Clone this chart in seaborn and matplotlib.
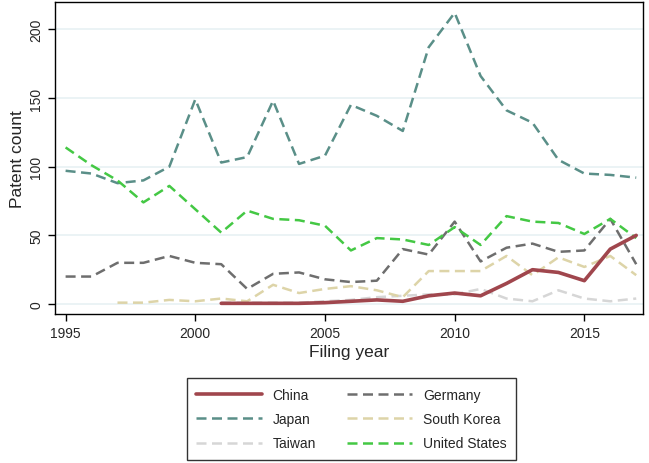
import numpy as np
import pandas as pd
import seaborn as sns
import matplotlib.pyplot as plt

years = list(range(1995, 2018))

china = [np.nan] * 6 + [0.5, 0.5, 0.5, 0.5, 1, 2, 3, 2, 6, 8, 6, 15, 25, 23, 17, 40, 50]
japan = [97, 95, 88, 90, 100, 149, 103, 107, 148, 102, 108, 145, 137, 126, 187, 212, 166, 141, 132, 105, 95, 94, 92]
taiwan = [np.nan] * 6 + [1, 1, 1, 1, 2, 3, 5, 6, 7, 7, 11, 4, 2, 10, 4, 2, 4]
germany = [20, 20, 30, 30, 35, 30, 29, 11, 22, 23, 18, 16, 17, 40, 36, 60, 31, 41, 44, 38, 39, 62, 29]
south_korea = [np.nan] * 2 + [1, 1, 3, 2, 4, 2, 14, 8, 11, 13, 10, 5, 24, 24, 24, 35, 21, 34, 27, 35, 21]
united_states = [114, 101, 90, 74, 86, 69, 52, 68, 62, 61, 57, 39, 48, 47, 43, 56, 43, 64, 60, 59, 51, 62, 48]

countries = ['China', 'Japan', 'Taiwan', 'Germany', 'South Korea', 'United States']
series = [china, japan, taiwan, germany, south_korea, united_states]
colors = ['#a0464d', '#5a8f88', '#d6d6d6', '#6e6e6e', '#ddd4a8', '#44c844']

df = pd.DataFrame({'year': years})
for name, vals in zip(countries, series):
    df[name] = vals
long = df.melt(id_vars='year', var_name='country', value_name='count')

sns.set_style('white')
plt.rcParams['font.family'] = ['Liberation Sans', 'DejaVu Sans']

fig = plt.figure(figsize=(6.49, 4.64), dpi=100)
ax = fig.add_axes([0.0847, 0.321, 0.906, 0.672])

# gridlines first so lines sit on top
for v in [0, 50, 100, 150, 200]:
    ax.axhline(v, color='#e8f1f3', lw=1.2, zorder=0)

for name, col in zip(countries, colors):
    sub = long[long['country'] == name].dropna()
    if name == 'China':
        sns.lineplot(data=sub, x='year', y='count', color=col, lw=2.6, ax=ax, label=name, zorder=3)
    else:
        sns.lineplot(data=sub, x='year', y='count', color=col, lw=1.8, ax=ax, label=name,
                     dashes=False, zorder=2)
        ax.lines[-1].set_dashes((4, 2.2))

ax.set_xlim(1994.59, 2017.26)
ax.set_ylim(-7.3, 219.7)
ax.set_xticks([1995, 2000, 2005, 2010, 2015])
ax.set_yticks([0, 50, 100, 150, 200])
ax.tick_params(axis='both', direction='out', length=5, width=1, color='black',
               labelsize=10, left=True, bottom=True)
for lab in ax.get_yticklabels():
    lab.set_rotation(90)
    lab.set_va('center')
for s in ax.spines.values():
    s.set_color('black')
    s.set_linewidth(1)

ax.set_xlabel('Filing year', fontsize=12.5, labelpad=3)
ax.set_ylabel('Patent count', fontsize=12.5, labelpad=3)

ax.get_legend().remove()
handles, labels = ax.get_legend_handles_labels()
leg = fig.legend(handles, labels, ncol=2, loc='center', bbox_to_anchor=(0.5416, 0.0948),
                 frameon=True, fancybox=False, fontsize=10, handlelength=4.7,
                 columnspacing=2.2, labelspacing=0.75, borderpad=0.7, handletextpad=0.8,
                 borderaxespad=0)
leg.get_frame().set_edgecolor('black')
leg.get_frame().set_linewidth(1)

fig.savefig('out.png', dpi=100)
